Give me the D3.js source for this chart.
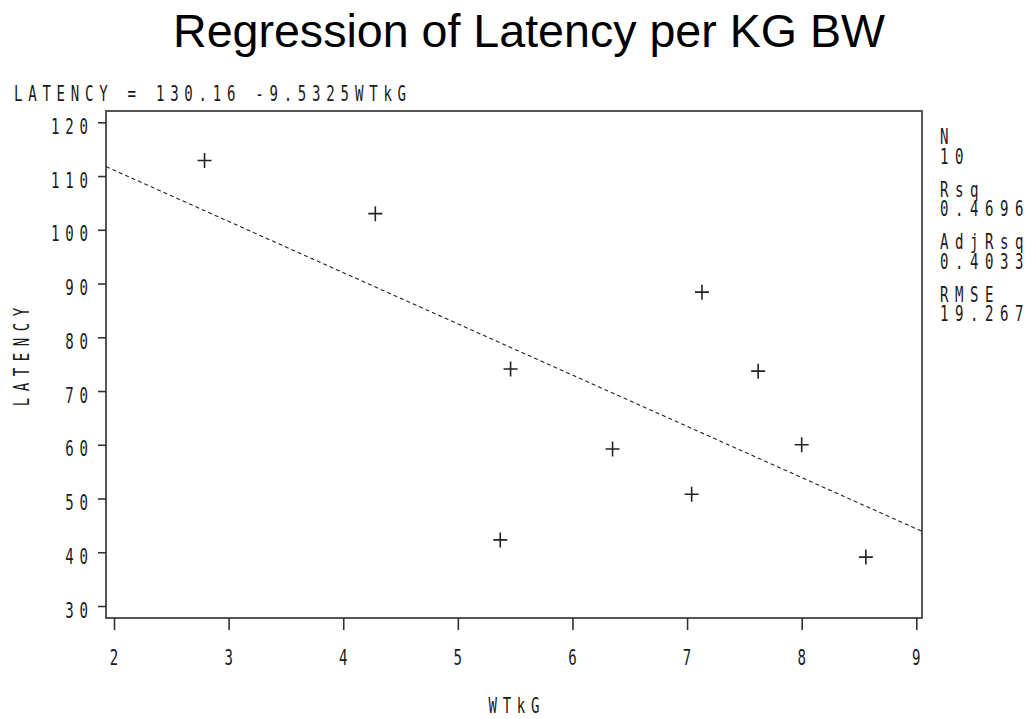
<!DOCTYPE html>
<html>
<head>
<meta charset="utf-8">
<script src="https://cdn.jsdelivr.net/npm/d3@7"></script>
<style>
  body { margin: 0; background: #fff; }
</style>
</head>
<body>
<div id="chart"></div>
<script>
// data
const wtkg    = [2.79, 4.28, 5.46, 5.37, 6.35, 7.13, 7.62, 8.00, 7.04, 8.56]
const latency = [112.9, 103.0, 74.1, 42.3, 59.2, 88.4, 73.7, 60.0, 50.8, 39.1]
const intercept = 130.16
const slope = -9.5325
const xTicks = [2, 3, 4, 5, 6, 7, 8, 9]
const yTicks = [30, 40, 50, 60, 70, 80, 90, 100, 110, 120]
const statLabels = ["N", "Rsq", "AdjRsq", "RMSE"]
const statValues = ["10", "0.4696", "0.4033", "19.267"]

const W = 1032, H = 719
const frame = {left: 106, right: 922, top: 111, bottom: 618}

const svg = d3.select("#chart")
  .append("svg")
    .attr("width", W)
    .attr("height", H)

svg.append("rect").attr("width", W).attr("height", H).attr("fill", "#fff")

const x = d3.scaleLinear().domain([2, 9]).range([114, 916.3])
const y = d3.scaleLinear().domain([30, 120]).range([606, 122.3])

// narrow monospaced text, like the old plotter font
const SX = 0.64, FS = 22
const CELL = FS * 0.602 * SX
function monoText(str, px, py, anchor = "start", rotate = 0, adv = 14.2) {
  const ls = adv / SX - FS * 0.602
  const w = (str.length - 1) * adv + CELL
  let dx = 0
  if (anchor === "end") dx = -w
  if (anchor === "middle") dx = -w / 2
  const g = svg.append("g")
    .attr("transform", `translate(${px},${py}) rotate(${rotate}) translate(${dx},0) scale(${SX},1)`)
  g.append("text")
    .attr("x", 0).attr("y", 0)
    .attr("font-family", "DejaVu Sans Mono")
    .attr("font-size", FS)
    .attr("letter-spacing", ls)
    .attr("fill", "#1a1a1a")
    .text(str)
  return g
}

// title
svg.append("text")
  .attr("x", 529).attr("y", 47)
  .attr("text-anchor", "middle")
  .attr("font-family", "Liberation Sans, Arial, sans-serif")
  .attr("font-size", 46)
  .attr("textLength", 712)
  .attr("lengthAdjust", "spacingAndGlyphs")
  .attr("fill", "#000")
  .text("Regression of Latency per KG BW")

// equation
monoText(`LATENCY = ${intercept} ${slope}`, 14, 101)
monoText("WTkG", 355, 101)

// frame
svg.append("rect")
  .attr("x", frame.left).attr("y", frame.top)
  .attr("width", frame.right - frame.left)
  .attr("height", frame.bottom - frame.top)
  .attr("fill", "none")
  .attr("stroke", "#444")
  .attr("stroke-width", 1.8)

// x axis ticks
const xAxis = svg.append("g")
  .attr("transform", `translate(0,${frame.bottom})`)
  .call(d3.axisBottom(x).tickValues(xTicks).tickSize(12).tickFormat(""))
xAxis.select(".domain").remove()
xAxis.selectAll("line").attr("stroke", "#333").attr("stroke-width", 1.6)

xTicks.forEach(t => monoText(String(t), x(t), 665, "middle"))

// y axis ticks
const yAxis = svg.append("g")
  .attr("transform", `translate(${frame.left},0)`)
  .call(d3.axisLeft(y).tickValues(yTicks).tickSize(8).tickFormat(""))
yAxis.select(".domain").remove()
yAxis.selectAll("line").attr("stroke", "#333").attr("stroke-width", 1.6)

yTicks.forEach(t => monoText(String(t), 88, y(t) + 11.5, "end"))

// axis titles
monoText("WTkG", 514, 713, "middle")
monoText("LATENCY", 29, 357, "middle", -90, 15)

// regression line
const x0 = x.invert(frame.left), x1 = x.invert(frame.right)
const fit = [x0, x1].map(v => ({x: v, y: intercept + slope * v}))
svg.append("path")
  .datum(fit)
  .attr("d", d3.line().x(d => x(d.x)).y(d => y(d.y)))
  .attr("fill", "none")
  .attr("stroke", "#222")
  .attr("stroke-width", 1.1)
  .attr("stroke-dasharray", "4,3")

// points as plus signs
const pts = wtkg.map((v, i) => ({x: v, y: latency[i]}))
svg.append("g")
  .selectAll("path")
  .data(pts)
  .enter()
  .append("path")
    .attr("d", d => {
      const cx = x(d.x), cy = y(d.y)
      return `M${cx - 7},${cy}H${cx + 7}M${cx},${cy - 7.5}V${cy + 7.5}`
    })
    .attr("stroke", "#222")
    .attr("stroke-width", 1.6)
    .attr("fill", "none")

// statistics on the right
statLabels.forEach((s, i) => {
  const base = 144 + i * 52.5
  monoText(s, 940, base, "start", 0, 15)
  monoText(statValues[i], 940, base + 19.5, "start", 0, 15)
})
</script>
</body>
</html>
